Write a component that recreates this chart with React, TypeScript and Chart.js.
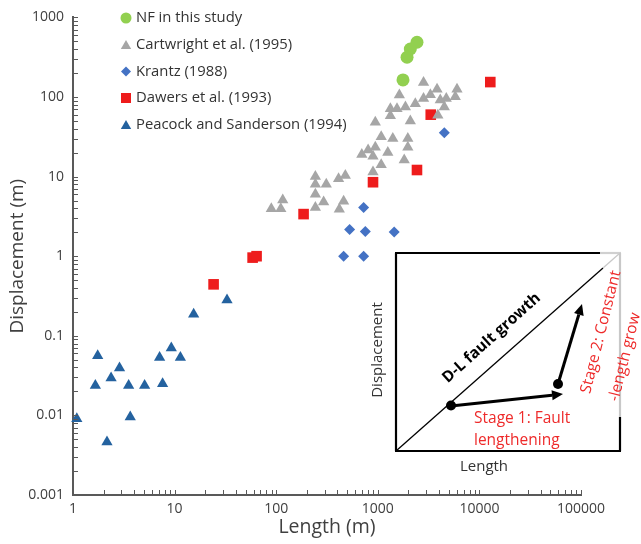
import React, { useEffect, useRef } from 'react';
import { Chart, registerables } from 'chart.js';
Chart.register(...registerables);

// ---- data ----
const nfLength = [2430, 2090, 1940, 1770];
const nfDisp = [487, 401, 316, 164];

const cartLength = [2820, 3830, 6020, 1630, 3290, 2820, 4120, 4720, 5790, 1330, 1545, 1870, 2340, 4515, 1330, 3900, 945, 2090, 1080, 1405, 1975, 1975, 696, 803, 945, 897, 1255, 1820, 1080, 897, 243, 243, 311, 411, 479, 243, 293, 243, 461, 418, 116, 89.5, 111];
const cartDisp = [152, 125, 125, 106, 107, 96, 92, 96, 101, 71, 71, 75, 82, 75, 58, 59, 48, 50, 31.6, 30.1, 30.1, 23.4, 19.0, 21.6, 23.4, 18.0, 20.1, 16.2, 14.1, 11.4, 10.0, 8.0, 8.0, 9.4, 10.3, 6.0, 4.8, 4.1, 4.9, 3.9, 5.1, 3.95, 3.95];

const krantzLength = [725, 528, 754, 1450, 461, 725, 4515];
const krantzDisp = [4.1, 2.16, 2.05, 2.01, 1.0, 1.0, 35.5];

const dawersLength = [12800, 3320, 2430, 897, 186, 58.6, 64.1, 24.2];
const dawersDisp = [154, 60, 12.1, 8.5, 3.38, 0.96, 1.0, 0.443];

const peacockLength = [1.09, 1.75, 1.66, 2.16, 2.37, 2.87, 3.53, 3.66, 5.07, 7.12, 7.62, 9.28, 11.4, 15.4, 32.8];
const peacockDisp = [0.0091, 0.0562, 0.0237, 0.00464, 0.0296, 0.0395, 0.0237, 0.00953, 0.0237, 0.0535, 0.0249, 0.0702, 0.0535, 0.187, 0.282];

const xTickValues = [1, 10, 100, 1000, 10000, 100000];
const yTickValues = [0.001, 0.01, 0.1, 1, 10, 100, 1000];

const seriesNames = ['NF in this study', 'Cartwright et al. (1995)', 'Krantz (1988)', 'Dawers et al. (1993)', 'Peacock and Sanderson (1994)'];

const COLORS = {
  green: '#92d050',
  gray: '#a6a6a6',
  diamond: '#4472c4',
  red: '#ee1c1c',
  blueTri: '#24629f',
  axis: '#595959',
  text: '#404040',
  insetRed: '#ee2a2a',
};

const FONT = '"Open Sans", "Noto Sans", sans-serif';

function pts(xs: number[], ys: number[]) {
  return xs.map((x, i) => ({ x, y: ys[i] }));
}

function drawMarker(ctx: CanvasRenderingContext2D, shape: string, x: number, y: number, r: number, color: string) {
  ctx.save();
  ctx.fillStyle = color;
  ctx.beginPath();
  if (shape === 'circle') {
    ctx.arc(x, y, r, 0, Math.PI * 2);
  } else if (shape === 'triangle') {
    ctx.moveTo(x, y - r);
    ctx.lineTo(x + r * 0.866, y + r * 0.5);
    ctx.lineTo(x - r * 0.866, y + r * 0.5);
    ctx.closePath();
  } else if (shape === 'diamond') {
    ctx.moveTo(x, y - r);
    ctx.lineTo(x + r, y);
    ctx.lineTo(x, y + r);
    ctx.lineTo(x - r, y);
    ctx.closePath();
  } else {
    ctx.rect(x - r, y - r, 2 * r, 2 * r);
  }
  ctx.fill();
  ctx.restore();
}

const minorTicksPlugin = {
  id: 'minorTicks',
  afterDraw(chart: any) {
    const ctx = chart.ctx;
    const xs = chart.scales.x;
    const ys = chart.scales.y;
    const area = chart.chartArea;
    ctx.save();
    ctx.strokeStyle = COLORS.axis;
    ctx.lineWidth = 1;
    const len = 5;
    for (let e = 0; e < 5; e++) {
      for (let m = 1; m <= 10; m++) {
        const v = m * Math.pow(10, e);
        if (v < 1 || v > 100000) continue;
        const px = Math.round(xs.getPixelForValue(v)) + 0.5;
        ctx.beginPath();
        ctx.moveTo(px, area.bottom);
        ctx.lineTo(px, area.bottom - len);
        ctx.stroke();
      }
    }
    for (let e = -3; e < 3; e++) {
      for (let m = 1; m <= 10; m++) {
        const v = m * Math.pow(10, e);
        const py = Math.round(ys.getPixelForValue(v)) + 0.5;
        ctx.beginPath();
        ctx.moveTo(area.left, py);
        ctx.lineTo(area.left + len, py);
        ctx.stroke();
      }
    }
    ctx.restore();
  },
};

const legendPlugin = {
  id: 'insideLegend',
  afterDraw(chart: any) {
    const ctx = chart.ctx;
    const shapes = ['circle', 'triangle', 'diamond', 'rect', 'triangle'];
    const colors = [COLORS.green, COLORS.gray, COLORS.diamond, COLORS.red, COLORS.blueTri];
    const sizes = [5.5, 6, 5, 5, 6];
    const ys = [18, 45, 71.5, 98, 125];
    ctx.save();
    ctx.font = `14.8px ${FONT}`;
    ctx.fillStyle = '#333333';
    ctx.textBaseline = 'middle';
    seriesNames.forEach((name, i) => {
      drawMarker(ctx, shapes[i], 126, ys[i] + (shapes[i] === 'triangle' ? 1 : 0), sizes[i], colors[i]);
      ctx.fillStyle = '#333333';
      ctx.fillText(name, 136, ys[i]);
    });
    ctx.restore();
  },
};

function arrow(ctx: CanvasRenderingContext2D, x1: number, y1: number, x2: number, y2: number) {
  const ang = Math.atan2(y2 - y1, x2 - x1);
  const hl = 11, hw = 5;
  const bx = x2 - Math.cos(ang) * hl;
  const by = y2 - Math.sin(ang) * hl;
  ctx.beginPath();
  ctx.moveTo(x1, y1);
  ctx.lineTo(bx, by);
  ctx.stroke();
  ctx.beginPath();
  ctx.moveTo(x2, y2);
  ctx.lineTo(bx + Math.sin(ang) * hw, by - Math.cos(ang) * hw);
  ctx.lineTo(bx - Math.sin(ang) * hw, by + Math.cos(ang) * hw);
  ctx.closePath();
  ctx.fill();
}

const insetPlugin = {
  id: 'inset',
  afterDraw(chart: any) {
    const ctx: CanvasRenderingContext2D = chart.ctx;
    const L = 396, T = 253, R = 620, B = 451;
    ctx.save();
    ctx.fillStyle = '#ffffff';
    ctx.fillRect(L, T, R - L, B - T);
    ctx.lineCap = 'butt';
    const line = (a: number, b: number, c: number, d: number, col: string, w: number) => {
      ctx.strokeStyle = col;
      ctx.lineWidth = w;
      ctx.beginPath();
      ctx.moveTo(a, b);
      ctx.lineTo(c, d);
      ctx.stroke();
    };
    // diagonal
    const fx = 603;
    const fy = B - (B - T) * ((fx - L) / (R - L));
    line(L, B, fx, fy, '#000', 1.3);
    line(fx, fy, R, T, '#c8c8c8', 1.3);
    // frame
    line(L - 1, T, 600, T, '#000', 2.2);
    line(600, T, R + 1, T, '#d0d0d0', 2.2);
    line(L, T, L, B, '#000', 2.2);
    line(L - 1, B, R + 1, B, '#000', 2.2);
    line(R, T, R, 417, '#c8c8c8', 2.2);
    line(R, 417, R, B, '#000', 2.2);

    // arrows
    ctx.strokeStyle = '#000';
    ctx.fillStyle = '#000';
    ctx.lineWidth = 3;
    arrow(ctx, 451, 406, 563, 394);
    arrow(ctx, 558, 384, 582, 304);
    ctx.beginPath();
    ctx.arc(451, 405.5, 5, 0, Math.PI * 2);
    ctx.fill();
    ctx.beginPath();
    ctx.arc(558, 384, 5, 0, Math.PI * 2);
    ctx.fill();

    // labels
    ctx.textAlign = 'center';
    ctx.textBaseline = 'middle';
    ctx.fillStyle = '#333333';
    ctx.font = `15px ${FONT}`;
    ctx.fillText('Length', 484, 467);
    ctx.save();
    ctx.translate(378, 350);
    ctx.rotate(-Math.PI / 2);
    ctx.fillText('Displacement', 0, 0);
    ctx.restore();

    ctx.save();
    ctx.translate(491.5, 338);
    ctx.rotate((-42 * Math.PI) / 180);
    ctx.fillStyle = '#000';
    ctx.font = `bold 15.5px ${FONT}`;
    ctx.fillText('D-L fault growth', 0, 0);
    ctx.restore();

    ctx.fillStyle = COLORS.insetRed;
    ctx.font = `15.5px ${FONT}`;
    ctx.textAlign = 'left';
    ctx.fillText('Stage 1: Fault', 474, 419);
    ctx.fillText('lengthening', 474, 441);

    ctx.textAlign = 'center';
    ctx.save();
    ctx.translate(601, 332);
    ctx.rotate((-76 * Math.PI) / 180);
    ctx.fillText('Stage 2: Constant', 0, 0);
    ctx.restore();
    ctx.save();
    ctx.translate(625, 357);
    ctx.rotate((-76 * Math.PI) / 180);
    ctx.fillText('-length grow', 0, 0);
    ctx.restore();

    ctx.restore();
  },
};

export default function App() {
  const ref = useRef<HTMLCanvasElement | null>(null);
  useEffect(() => {
    document.body.style.margin = '0';
    const canvas = ref.current;
    if (!canvas) return;
    const common = { showLine: false, clip: false as any, pointBorderWidth: 0 };
    const chart = new Chart(canvas, {
      type: 'scatter',
      data: {
        datasets: [
          { ...common, label: seriesNames[4], data: pts(peacockLength, peacockDisp), pointStyle: 'triangle', pointRadius: 6.5, backgroundColor: COLORS.blueTri, borderColor: COLORS.blueTri },
          { ...common, label: seriesNames[1], data: pts(cartLength, cartDisp), pointStyle: 'triangle', pointRadius: 6.5, backgroundColor: COLORS.gray, borderColor: COLORS.gray },
          { ...common, label: seriesNames[2], data: pts(krantzLength, krantzDisp), pointStyle: 'rectRot', pointRadius: 5.5, backgroundColor: COLORS.diamond, borderColor: COLORS.diamond },
          { ...common, label: seriesNames[3], data: pts(dawersLength, dawersDisp), pointStyle: 'rect', pointRadius: 7.5, backgroundColor: COLORS.red, borderColor: COLORS.red },
          { ...common, label: seriesNames[0], data: pts(nfLength, nfDisp), pointStyle: 'circle', pointRadius: 6.5, backgroundColor: COLORS.green, borderColor: COLORS.green },
        ],
      },
      options: {
        animation: false,
        responsive: false,
        maintainAspectRatio: false,
        events: [],
        layout: { padding: { top: 15, right: 60, left: 0, bottom: 0 } },
        plugins: { legend: { display: false }, tooltip: { enabled: false } },
        scales: {
          x: {
            type: 'logarithmic',
            min: 1,
            max: 100000,
            grid: { display: false, drawTicks: false, tickLength: 0 },
            border: { display: true, color: COLORS.axis, width: 2 },
            ticks: {
              color: COLORS.text,
              font: { family: FONT, size: 14 },
              padding: 6,
              maxRotation: 0,
              autoSkip: false,
              callback: (v: any) => String(v),
            },
            title: { display: true, text: 'Length (m)', color: COLORS.text, font: { family: FONT, size: 19.5 }, padding: { top: 0, bottom: 5 } },
            afterBuildTicks: (s: any) => { s.ticks = xTickValues.map((v) => ({ value: v })); },
            afterFit: (s: any) => { s.height = 49; },
          },
          y: {
            type: 'logarithmic',
            min: 0.001,
            max: 1000,
            grid: { display: false, drawTicks: false, tickLength: 0 },
            border: { display: true, color: COLORS.axis, width: 2 },
            ticks: {
              color: COLORS.text,
              font: { family: FONT, size: 14 },
              padding: 9,
              autoSkip: false,
              callback: (v: any) => String(v),
            },
            title: { display: true, text: 'Displacement (m)', color: COLORS.text, font: { family: FONT, size: 19 }, padding: { top: 6, bottom: 0 } },
            afterBuildTicks: (s: any) => { s.ticks = yTickValues.map((v) => ({ value: v })); },
            afterFit: (s: any) => { s.width = 73; },
          },
        },
      } as any,
      plugins: [minorTicksPlugin, legendPlugin, insetPlugin],
    });
    return () => chart.destroy();
  }, []);
  return <canvas ref={ref} width={641} height={544} style={{ display: 'block' }} />;
}
